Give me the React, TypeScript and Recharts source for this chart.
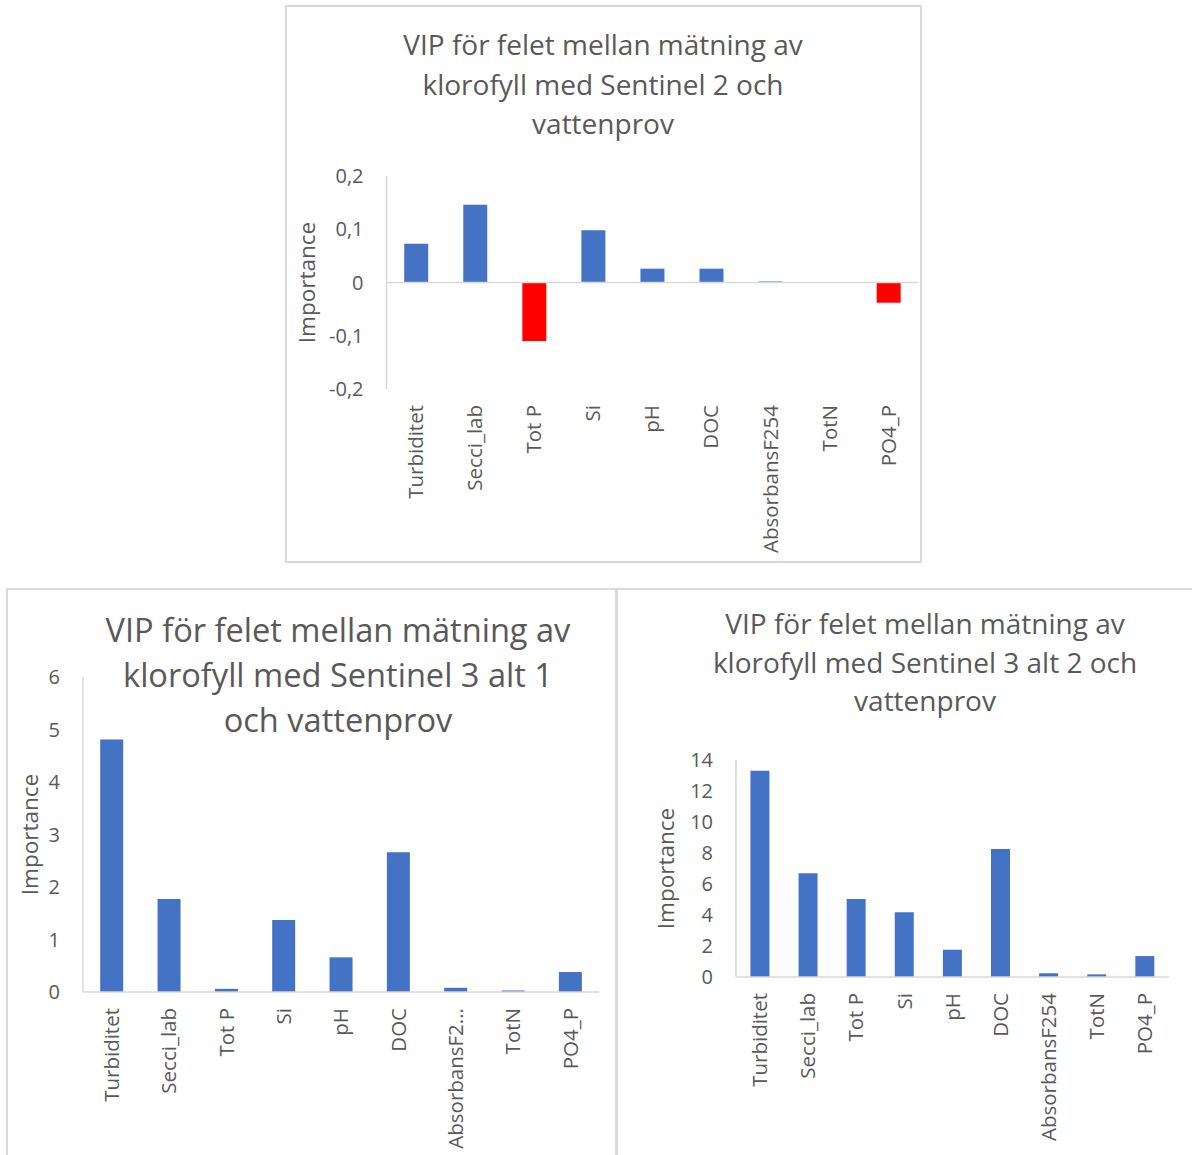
import { Bar, BarChart, Cell, ReferenceLine, XAxis, YAxis } from "recharts";

const categories = ["Turbiditet", "Secci_lab", "Tot P", "Si", "pH", "DOC", "AbsorbansF254", "TotN", "PO4_P"];

// VIP per variable, one list per satellite comparison
const sentinel2Vip = [0.073, 0.146, -0.11, 0.098, 0.026, 0.026, 0.002, 0, -0.038];
const sentinel3Alt1Vip = [4.81, 1.77, 0.06, 1.37, 0.66, 2.66, 0.08, 0.03, 0.38];
const sentinel3Alt2Vip = [13.3, 6.69, 5.03, 4.17, 1.76, 8.26, 0.24, 0.17, 1.35];

const sentinel2Ticks = [-0.2, -0.1, 0, 0.1, 0.2];
const sentinel3Alt1Ticks = [0, 1, 2, 3, 4, 5, 6];
const sentinel3Alt2Ticks = [0, 2, 4, 6, 8, 10, 12, 14];

const sentinel2Title = ["VIP för felet mellan mätning av", "klorofyll med Sentinel 2 och", "vattenprov"];
const sentinel3Alt1Title = ["VIP för felet mellan mätning av", "klorofyll med Sentinel 3 alt 1", "och vattenprov"];
const sentinel3Alt2Title = ["VIP för felet mellan mätning av", "klorofyll med Sentinel 3 alt 2 och", "vattenprov"];

const axisTitle = "Importance";

const font = '"Open Sans", "Noto Sans", sans-serif';
const textColor = "#595959";
const gridColor = "#d9d9d9";
const blue = "#4472c4";
const red = "#ff0000";

const toRows = (values: number[]) => categories.map((name, i) => ({ name, value: values[i] }));

const commaNumber = (v: number) => (v === 0 ? "0" : String(v).replace(".", ","));

function RotatedTick(props: any) {
  const { x, y, payload, maxChars } = props;
  let label: string = payload.value;
  if (maxChars && label.length > maxChars) label = label.slice(0, maxChars) + "...";
  return (
    <text
      x={x}
      y={y}
      transform={`rotate(-90, ${x}, ${y})`}
      textAnchor="end"
      dy="0.35em"
      fill={textColor}
      fontSize={20.5}
      fontFamily={font}
    >
      {label}
    </text>
  );
}

function Frame({ left, top, width, height }: { left: number; top: number; width: number; height: number }) {
  return (
    <div
      style={{
        position: "absolute",
        left,
        top,
        width,
        height,
        boxSizing: "border-box",
        border: `2px solid ${gridColor}`,
      }}
    />
  );
}

function Title({ lines, cx, top, size, lineHeight }: { lines: string[]; cx: number; top: number; size: number; lineHeight: number }) {
  return (
    <div
      style={{
        position: "absolute",
        left: cx - 300,
        top,
        width: 600,
        textAlign: "center",
        fontFamily: font,
        fontSize: size,
        lineHeight: `${lineHeight}px`,
        color: textColor,
        whiteSpace: "nowrap",
      }}
    >
      {lines.map((l) => (
        <div key={l}>{l}</div>
      ))}
    </div>
  );
}

type PanelProps = {
  values: number[];
  ticks: number[];
  left: number;
  top: number;
  width: number;
  height: number;
  margin: { top: number; right: number };
  yAxisWidth: number;
  xAxisHeight: number;
  labelOffset: number;
  zeroLine?: boolean;
  maxChars?: number;
};

function VipPanel(p: PanelProps) {
  const rows = toRows(p.values);
  return (
    <div style={{ position: "absolute", left: p.left, top: p.top }}>
      <BarChart
        width={p.width}
        height={p.height}
        data={rows}
        margin={{ top: p.margin.top, right: p.margin.right, bottom: 0, left: 0 }}
        barCategoryGap="30%"
      >
        <XAxis
          dataKey="name"
          interval={0}
          height={p.xAxisHeight}
          axisLine={p.zeroLine ? false : { stroke: gridColor, strokeWidth: 1.5 }}
          tickLine={false}
          tickSize={0}
          tickMargin={16}
          tick={<RotatedTick maxChars={p.maxChars} />}
        />
        <YAxis
          width={p.yAxisWidth}
          domain={[p.ticks[0], p.ticks[p.ticks.length - 1]]}
          ticks={p.ticks}
          interval={0}
          axisLine={{ stroke: gridColor, strokeWidth: 1.5 }}
          tickLine={false}
          tickSize={0}
          tickMargin={23}
          tickFormatter={commaNumber}
          tick={{ fill: textColor, fontSize: 20, fontFamily: font }}
          label={{
            value: axisTitle,
            angle: -90,
            position: "insideLeft",
            offset: p.labelOffset,
            style: { textAnchor: "middle", fill: textColor, fontSize: 22.5, fontFamily: font },
          }}
        />
        {p.zeroLine && <ReferenceLine y={0} stroke={gridColor} strokeWidth={1.5} />}
        <Bar dataKey="value" isAnimationActive={false}>
          {rows.map((r) => (
            <Cell key={r.name} fill={r.value < 0 ? red : blue} />
          ))}
        </Bar>
      </BarChart>
    </div>
  );
}

export default function App() {
  return (
    <div
      style={{
        position: "fixed",
        left: 0,
        top: 0,
        width: 1192,
        height: 1155,
        overflow: "hidden",
        background: "#ffffff",
      }}
    >
      <Frame left={285} top={5} width={637} height={558} />
      <Frame left={6} top={588} width={612} height={600} />
      <Frame left={615} top={588} width={620} height={600} />

      <VipPanel
        values={sentinel2Vip}
        ticks={sentinel2Ticks}
        left={285}
        top={5}
        width={636}
        height={557}
        margin={{ top: 171, right: 3 }}
        yAxisWidth={101.5}
        xAxisHeight={173}
        labelOffset={22}
        zeroLine
      />
      <VipPanel
        values={sentinel3Alt1Vip}
        ticks={sentinel3Alt1Ticks}
        left={7}
        top={589}
        width={609}
        height={566}
        margin={{ top: 88, right: 17 }}
        yAxisWidth={76}
        xAxisHeight={163}
        labelOffset={23}
        maxChars={11}
      />
      <VipPanel
        values={sentinel3Alt2Vip}
        ticks={sentinel3Alt2Ticks}
        left={616}
        top={589}
        width={576}
        height={566}
        margin={{ top: 171, right: 23 }}
        yAxisWidth={120}
        xAxisHeight={178}
        labelOffset={50}
      />

      <Title lines={sentinel2Title} cx={603} top={25} size={28} lineHeight={39.5} />
      <Title lines={sentinel3Alt1Title} cx={338} top={607} size={32.6} lineHeight={45} />
      <Title lines={sentinel3Alt2Title} cx={925} top={604} size={28} lineHeight={38.5} />
    </div>
  );
}
